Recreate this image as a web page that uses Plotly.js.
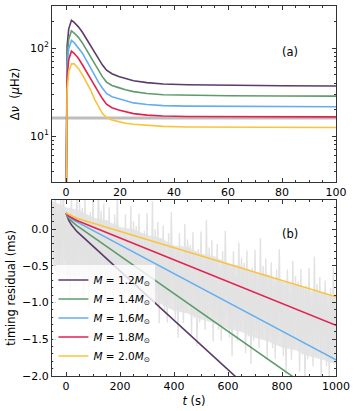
<!DOCTYPE html>
<html>
<head>
<meta charset="utf-8">
<script src="https://cdn.plot.ly/plotly-3.0.1.min.js"></script>
<style>
  html, body { margin: 0; padding: 0; background: #fff; }
  #chart { width: 357px; height: 411px; }
</style>
</head>
<body>
<div id="chart"></div>
<script>
// -------- DATA: panel (a), frequency width vs time --------
const dnuTime = [0, 0.15, 0.4, 1.0, 2.0, 3.0, 4.5, 6, 7.5, 9, 10.5, 12, 13.5, 15, 17, 19.5, 22, 25, 30, 36, 45, 60, 80, 100];
const dnuM12 = [1, 40, 105, 165, 206, 195, 175, 152, 128, 107, 89, 75, 64, 56, 51, 47.5, 45, 42.5, 40.5, 39, 38.3, 37.7, 37.3, 37.0];
const dnuM14 = [1, 30, 80, 126, 157, 148, 133, 115, 96, 80, 66, 55, 47, 41, 37.5, 35.5, 33.5, 32, 30.5, 29.5, 29, 28.7, 28.5, 28.4];
const dnuM16 = [1, 24, 62, 98, 122, 115, 102, 88, 73, 60, 49.5, 41, 35, 30.5, 28, 26.5, 25, 23.8, 22.8, 22.2, 21.9, 21.7, 21.6, 21.5];
const dnuM18 = [1, 18, 47, 74, 92, 87, 77, 65, 54, 45, 37, 31, 26.5, 23, 21, 19.8, 18.8, 18, 17.3, 16.9, 16.7, 16.6, 16.6, 16.5];
const dnuM20 = [1, 12, 33, 54, 66, 66, 59, 50, 41, 34, 26.5, 21.5, 18, 16.2, 15.2, 14.6, 14, 13.6, 13.2, 12.9, 12.7, 12.6, 12.5, 12.5];
const dnuThreshold = 16;

// -------- DATA: panel (b), timing residuals --------
const resTime = [0, 5, 10, 20, 40, 1000];
const resM12 = [0.22, 0.16, 0.12, 0.06, -0.03, -3.26];
const resM14 = [0.22, 0.18, 0.15, 0.11, 0.05, -2.42];
const resM16 = [0.22, 0.19, 0.17, 0.14, 0.10, -1.78];
const resM18 = [0.22, 0.20, 0.18, 0.16, 0.12, -1.31];
const resM20 = [0.22, 0.21, 0.20, 0.18, 0.15, -0.92];

// observed residual noise, sampled every 5 s from t = -50 s
const noiseStart = -50;
const noiseStep = 5;
const noiseVals = [
  0.38, -0.45, 0.55, -0.62, 0.23, -0.77, 0.45, -0.49, 0.73, -0.42,
  0.27, -0.73, 0.22, -0.98, 0.45, -0.58, 0.12, -0.78, 0.57, -0.63,
  0.36, -0.49, 0.29, -0.94, 0.46, -0.71, 0.19, -1.09, 0.23, -0.77,
  0.47, -0.65, 0.08, -0.87, 0.63, -0.73, 0.25, -0.61, 0.35, -1.03,
  0.13, -0.70, 0.30, -0.87, -0.02, -1.02, 0.20, -0.74, 0.48, -0.67,
  0.02, -0.98, -0.03, -1.23, 0.20, -0.83, -0.13, -1.03, 0.32, -0.88,
  0.11, -0.74, 0.04, -1.19, 0.21, -0.96, -0.06, -1.34, -0.02, -1.02,
  0.22, -0.90, -0.17, -1.12, 0.38, -0.98, 0.00, -0.86, 0.10, -1.28,
  -0.12, -0.95, 0.05, -1.12, -0.27, -1.27, -0.05, -0.99, 0.23, -0.92,
  -0.23, -1.23, -0.28, -1.48, -0.05, -1.08, -0.38, -1.28, 0.07, -1.13,
  -0.14, -0.99, -0.21, -1.44, -0.04, -1.21, -0.31, -1.59, -0.27, -1.27,
  -0.03, -1.15, -0.42, -1.37, 0.13, -1.23, -0.25, -1.11, -0.15, -1.53,
  -0.37, -1.20, -0.20, -1.37, -0.52, -1.52, -0.30, -1.24, -0.02, -1.17,
  -0.48, -1.48, -0.53, -1.73, -0.30, -1.33, -0.63, -1.53, -0.18, -1.38,
  -0.39, -1.24, -0.46, -1.69, -0.29, -1.46, -0.56, -1.84, -0.52, -1.52,
  -0.28, -1.40, -0.67, -1.62, -0.12, -1.48, -0.50, -1.36, -0.40, -1.78,
  -0.62, -1.45, -0.45, -1.62, -0.77, -1.77, -0.55, -1.49, -0.27, -1.42,
  -0.73, -1.73, -0.78, -1.98, -0.55, -1.58, -0.88, -1.78, -0.43, -1.63,
  -0.64, -1.49, -0.71, -1.94, -0.54, -1.71, -0.81, -2.09, -0.77, -1.77,
  -0.53, -1.65, -0.92, -1.87, -0.37, -1.73, -0.75, -1.61, -0.65, -2.03,
  -0.87, -1.70, -0.70, -1.87, -1.02, -2.02, -0.80, -1.74, -0.52, -1.67,
  -1.05
];

// dense core of the noise, read every 50 s from t = -50 s
const coreTime = [-50, 0, 50, 100, 150, 200, 250, 300, 350, 400, 450, 500, 550, 600, 650, 700, 750, 800, 850, 900, 950, 1000];
const coreUpper = [0.38, 0.30, 0.26, 0.16, 0.12, 0.03, 0.00, -0.08, -0.12, -0.22, -0.24, -0.33, -0.37, -0.46, -0.50, -0.58, -0.62, -0.71, -0.75, -0.83, -0.87, -0.93];
const coreLower = [-0.56, -0.62, -0.64, -0.74, -0.77, -0.86, -0.90, -0.98, -1.02, -1.11, -1.15, -1.23, -1.28, -1.36, -1.40, -1.48, -1.53, -1.61, -1.65, -1.73, -1.78, -1.84];

const massLabels = ['1.2', '1.4', '1.6', '1.8', '2.0'];
const massColors = ['#5b3b6a', '#5e9b6c', '#64aef0', '#e0234f', '#fbc33b'];

// -------- TRACES --------
const dnuSeries = [dnuM12, dnuM14, dnuM16, dnuM18, dnuM20];
const resSeries = [resM12, resM14, resM16, resM18, resM20];
const noiseTime = noiseVals.map((_, i) => noiseStart + i * noiseStep);

const traces = [];

// gray noise: filled core, then the spiky series on top
traces.push({
  x: coreTime, y: coreLower, xaxis: 'x2', yaxis: 'y2',
  mode: 'lines', line: { width: 0, color: '#e6e6e6' },
  hoverinfo: 'skip', showlegend: false
});
traces.push({
  x: coreTime, y: coreUpper, xaxis: 'x2', yaxis: 'y2',
  mode: 'lines', line: { width: 0, color: '#e6e6e6' },
  fill: 'tonexty', fillcolor: '#e6e6e6',
  hoverinfo: 'skip', showlegend: false
});
traces.push({
  x: noiseTime, y: noiseVals, xaxis: 'x2', yaxis: 'y2',
  mode: 'lines', line: { color: '#e2e2e2', width: 1.4, simplify: false },
  hoverinfo: 'skip', showlegend: false
});

for (let i = 0; i < massLabels.length; i++) {
  traces.push({
    x: dnuTime, y: dnuSeries[i], xaxis: 'x', yaxis: 'y',
    mode: 'lines', line: { color: massColors[i], width: 1.6 },
    showlegend: false
  });
  traces.push({
    x: resTime, y: resSeries[i], xaxis: 'x2', yaxis: 'y2',
    mode: 'lines', line: { color: massColors[i], width: 1.6 },
    name: `<i>M</i> = ${massLabels[i]}<i>M</i><sub>⊙</sub>`
  });
}

// -------- LAYOUT --------
const font = { family: 'DejaVu Sans, sans-serif', size: 11, color: '#000' };
const titleFont = { family: 'DejaVu Sans, sans-serif', size: 11.5, color: '#000' };
const frame = {
  showline: true, linecolor: '#333', linewidth: 1, mirror: 'allticks',
  ticks: 'inside', ticklen: 4, tickwidth: 1, tickcolor: '#333',
  showgrid: false, zeroline: false, tickfont: font
};

const log10ticks = [];
for (const d of [1, 10, 100]) for (let k = 2; k <= 9; k++) log10ticks.push(k * d);

const layout = {
  width: 357, height: 411,
  margin: { l: 52, r: 21, t: 6, b: 35 },
  paper_bgcolor: '#fff', plot_bgcolor: '#fff',
  font: font,
  xaxis: Object.assign({}, frame, {
    domain: [0, 1], anchor: 'y', range: [-5.2, 100],
    tickvals: [0, 20, 40, 60, 80, 100],
    minor: { ticks: 'inside', ticklen: 2, tickcolor: '#333', dtick: 5, tick0: 0 }
  }),
  yaxis: Object.assign({}, frame, {
    domain: [0.524, 1], anchor: 'x', type: 'log', range: [Math.log10(3), Math.log10(300)],
    tickvals: [10, 100], ticktext: ['10<sup>1</sup>', '10<sup>2</sup>'],
    minor: { ticks: 'inside', ticklen: 2, tickcolor: '#333', tickmode: 'array', tickvals: log10ticks },
    title: { text: 'Δ<i>ν</i>  (<i>μ</i>Hz)', font: titleFont, standoff: 7 }
  }),
  xaxis2: Object.assign({}, frame, {
    domain: [0, 1], anchor: 'y2', range: [-52, 1000],
    tickvals: [0, 200, 400, 600, 800, 1000],
    minor: { ticks: 'inside', ticklen: 2, tickcolor: '#333', dtick: 50, tick0: 0 },
    title: { text: '<i>t</i> (s)', font: titleFont, standoff: 4 }
  }),
  yaxis2: Object.assign({}, frame, {
    domain: [0, 0.476], anchor: 'x2', range: [-2.0, 0.4],
    tickvals: [0, -0.5, -1.0, -1.5, -2.0], tickformat: '.1f',
    minor: { ticks: 'inside', ticklen: 2, tickcolor: '#333', dtick: 0.1, tick0: 0 },
    title: { text: 'timing residual (ms)', font: titleFont, standoff: 4 }
  }),
  shapes: [{
    type: 'line', xref: 'x domain', yref: 'y', x0: 0, x1: 1,
    y0: dnuThreshold, y1: dnuThreshold, layer: 'below',
    line: { color: '#bdbdbd', width: 3 }
  }],
  annotations: [
    { text: '(a)', xref: 'x', yref: 'y domain', x: 83, y: 0.79, showarrow: false, font: titleFont },
    { text: '(b)', xref: 'x2', yref: 'y2 domain', x: 830, y: 0.86, showarrow: false, font: titleFont }
  ],
  legend: {
    x: 0.005, y: 0.015, xanchor: 'left', yanchor: 'bottom',
    xref: 'paper', yref: 'paper', traceorder: 'normal',
    bgcolor: 'rgba(255,255,255,0.8)', borderwidth: 0,
    font: { family: 'DejaVu Sans, sans-serif', size: 10.5, color: '#000' },
    itemwidth: 30, tracegroupgap: 0
  }
};

Plotly.newPlot('chart', traces, layout, { displayModeBar: false, staticPlot: true });
</script>
</body>
</html>
